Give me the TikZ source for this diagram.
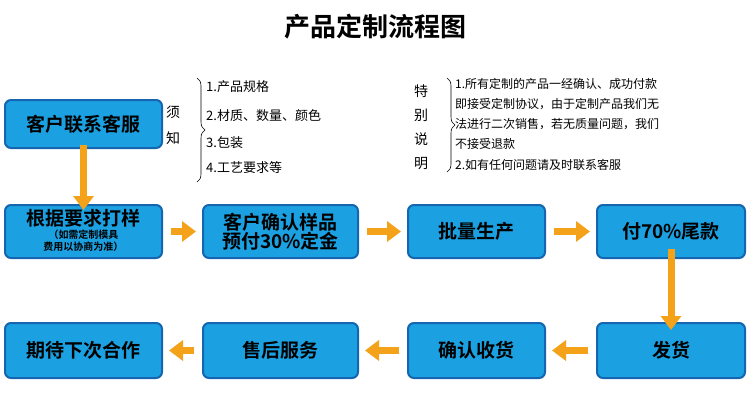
\documentclass[tikz,border=0pt]{standalone}
\usepackage{fontspec}
\setmainfont{Noto Sans CJK SC}[BoldFont=Noto Sans CJK SC Bold]
\usetikzlibrary{arrows.meta,decorations.pathreplacing}
\definecolor{boxfill}{HTML}{1BA1E2}
\definecolor{boxline}{HTML}{1565B0}
\definecolor{arr}{HTML}{F5A21B}
\begin{document}
\begin{tikzpicture}[x=1pt,y=-1pt,
 box/.style={draw=boxline,line width=2pt,fill=boxfill,rounded corners=6pt,align=center,font=\fontsize{19}{22}\selectfont\bfseries,inner sep=0pt},
 ar/.style={-{Triangle[length=14pt,width=20pt]},arr,line width=7pt},
 note/.style={font=\fontsize{13}{20}\selectfont,anchor=west,inner sep=0pt}]
\useasboundingbox (0,0) rectangle (750,400);
\node[font=\fontsize{26}{28}\selectfont\bfseries] (t) at (375,27) {产品定制流程图};
\node[box,minimum width=157pt,minimum height=48pt] (a) at (83.5,124) {客户联系客服};
\node[box,minimum width=157pt,minimum height=53pt] (b) at (83.5,231.5) {根据要求打样\\[-4pt]{\fontsize{10}{11}\selectfont\begin{tabular}{@{}c@{}}（如需定制模具\\费用以协商为准）\end{tabular}}};
\node[box,minimum width=155pt,minimum height=53pt] (c) at (280.5,231.5) {客户确认样品\\[-3pt]预付30\%定金};
\node[box,minimum width=137pt,minimum height=53pt] (d) at (476.5,231.5) {批量生产};
\node[box,minimum width=148pt,minimum height=53pt] (e) at (671,231.5) {付70\%尾款};
\node[box,minimum width=148pt,minimum height=55pt] (f) at (671,350.5) {发货};
\node[box,minimum width=137pt,minimum height=55pt] (g) at (476.5,350.5) {确认收货};
\node[box,minimum width=155pt,minimum height=55pt] (h) at (280.5,350.5) {售后服务};
\node[box,minimum width=157pt,minimum height=55pt] (i) at (83.5,350.5) {期待下次合作};
\draw[ar] ([yshift=4pt]a.south) -- ([yshift=-6pt]b.north);
\draw[ar] ([xshift=8pt]b.east) -- ([xshift=-6pt]c.west);
\draw[ar] ([xshift=8pt]c.east) -- ([xshift=-6pt]d.west);
\draw[ar] ([xshift=8pt]d.east) -- ([xshift=-6pt]e.west);
\draw[ar] ([yshift=10pt]e.south) -- ([yshift=-8pt]f.north);
\draw[ar] ([xshift=-8pt]f.west) -- ([xshift=6pt]g.east);
\draw[ar] ([xshift=-8pt]g.west) -- ([xshift=6pt]h.east);
\draw[ar] ([xshift=-8pt]h.west) -- ([xshift=6pt]i.east);
% notes left
\node[font=\fontsize{14}{26}\selectfont,align=center] (xz) at (173,125) {须\\知};
\coordinate (l1) at (197,78); \coordinate (l2) at (197,182);
\draw[decorate,decoration={brace,amplitude=8pt},line width=0.6pt] (l1) -- (l2);
\node[note] (n1) at (206,87) {1.产品规格};
\node[note] (n2) at (206,116) {2.材质、数量、颜色};
\node[note] (n3) at (206,143) {3.包装};
\node[note] (n4) at (206,168) {4.工艺要求等};
% notes right
\node[font=\fontsize{14}{24}\selectfont,align=center] (tb) at (421,127) {特\\别\\说\\明};
\coordinate (r1) at (447,78); \coordinate (r2) at (447,172);
\draw[decorate,decoration={brace,amplitude=8pt},line width=0.6pt] (r1) -- (r2);
\node[note,font=\fontsize{12}{20}\selectfont,anchor=north west,align=left] (m1) at (455,78) {1.所有定制的产品一经确认、成功付款\\即接受定制协议，由于定制产品我们无\\法进行二次销售，若无质量问题，我们\\不接受退款};
\node[note,font=\fontsize{12}{20}\selectfont] (m2) at (455,165) {2.如有任何问题请及时联系客服};
\end{tikzpicture}
\end{document}
